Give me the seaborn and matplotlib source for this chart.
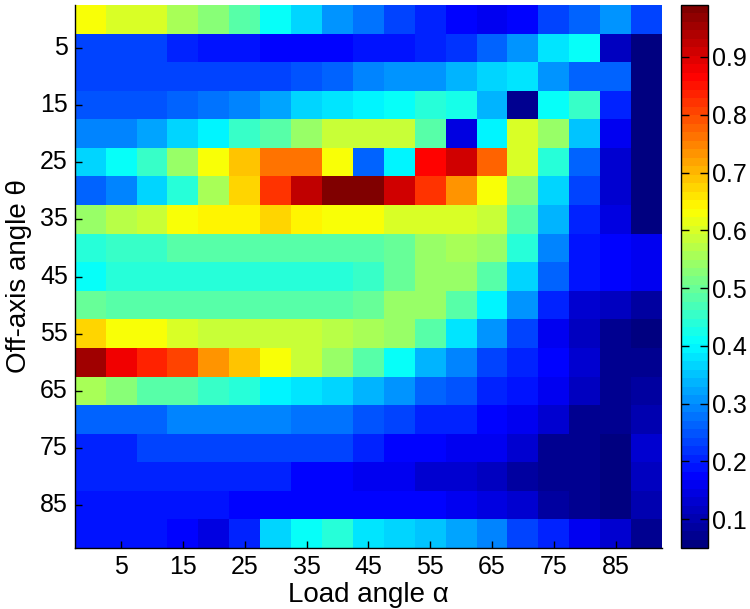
import numpy as np
import pandas as pd
import matplotlib
matplotlib.use("Agg")
import matplotlib.pyplot as plt
from matplotlib.colors import LinearSegmentedColormap
import seaborn as sns

# Load angle alpha (columns) and off-axis angle theta (rows), degrees
alpha = [0, 5, 10, 15, 20, 25, 30, 35, 40, 45, 50, 55, 60, 65, 70, 75, 80, 85, 90]
theta = [0, 5, 10, 15, 20, 25, 30, 35, 40, 45, 50, 55, 60, 65, 70, 75, 80, 85, 90]

theta_00 = [0.623, 0.60, 0.597, 0.55, 0.52, 0.476, 0.417, 0.373, 0.314, 0.28, 0.24, 0.20, 0.175, 0.167, 0.18, 0.23, 0.27, 0.31, 0.24]
theta_05 = [0.24, 0.23, 0.23, 0.21, 0.19, 0.19, 0.175, 0.175, 0.175, 0.19, 0.185, 0.20, 0.22, 0.256, 0.31, 0.385, 0.417, 0.109, 0.05]
theta_10 = [0.24, 0.24, 0.23, 0.23, 0.23, 0.23, 0.24, 0.25, 0.256, 0.285, 0.30, 0.31, 0.34, 0.36, 0.385, 0.30, 0.256, 0.256, 0.05]
theta_15 = [0.25, 0.25, 0.25, 0.26, 0.28, 0.29, 0.32, 0.36, 0.385, 0.40, 0.417, 0.44, 0.425, 0.33, 0.065, 0.417, 0.447, 0.21, 0.05]
theta_20 = [0.29, 0.29, 0.32, 0.36, 0.40, 0.447, 0.49, 0.535, 0.579, 0.593, 0.593, 0.476, 0.146, 0.40, 0.608, 0.535, 0.35, 0.16, 0.05]
theta_25 = [0.37, 0.417, 0.461, 0.535, 0.623, 0.696, 0.755, 0.755, 0.6375, 0.256, 0.40, 0.858, 0.915, 0.77, 0.60, 0.432, 0.27, 0.13, 0.05]
theta_30 = [0.26, 0.29, 0.36, 0.432, 0.55, 0.68, 0.814, 0.931, 0.99, 0.99, 0.915, 0.828, 0.726, 0.6375, 0.52, 0.36, 0.23, 0.131, 0.05]
theta_35 = [0.535, 0.572, 0.593, 0.623, 0.652, 0.652, 0.667, 0.652, 0.6375, 0.623, 0.608, 0.608, 0.60, 0.579, 0.476, 0.335, 0.21, 0.146, 0.05]
theta_40 = [0.432, 0.447, 0.461, 0.476, 0.476, 0.476, 0.476, 0.476, 0.49, 0.49, 0.505, 0.535, 0.564, 0.535, 0.432, 0.285, 0.19, 0.18, 0.165]
theta_45 = [0.417, 0.432, 0.432, 0.432, 0.432, 0.432, 0.432, 0.432, 0.44, 0.46, 0.505, 0.535, 0.535, 0.476, 0.36, 0.27, 0.19, 0.18, 0.165]
theta_50 = [0.505, 0.49, 0.49, 0.476, 0.476, 0.476, 0.476, 0.49, 0.49, 0.505, 0.535, 0.535, 0.49, 0.40, 0.30, 0.20, 0.138, 0.116, 0.094]
theta_55 = [0.667, 0.6375, 0.623, 0.608, 0.593, 0.586, 0.586, 0.586, 0.572, 0.564, 0.535, 0.476, 0.385, 0.30, 0.24, 0.165, 0.116, 0.079, 0.058]
theta_60 = [0.95, 0.887, 0.843, 0.80, 0.74, 0.696, 0.6375, 0.586, 0.535, 0.476, 0.417, 0.34, 0.285, 0.24, 0.21, 0.18, 0.125, 0.079, 0.079]
theta_65 = [0.55, 0.52, 0.49, 0.476, 0.447, 0.432, 0.40, 0.385, 0.36, 0.33, 0.30, 0.27, 0.25, 0.21, 0.19, 0.153, 0.109, 0.079, 0.094]
theta_70 = [0.256, 0.26, 0.27, 0.285, 0.285, 0.285, 0.285, 0.28, 0.28, 0.25, 0.23, 0.21, 0.20, 0.18, 0.153, 0.131, 0.079, 0.079, 0.10]
theta_75 = [0.21, 0.21, 0.23, 0.23, 0.23, 0.23, 0.23, 0.23, 0.23, 0.205, 0.18, 0.18, 0.165, 0.153, 0.125, 0.079, 0.07, 0.05, 0.125]
theta_80 = [0.20, 0.20, 0.20, 0.20, 0.20, 0.20, 0.20, 0.18, 0.18, 0.165, 0.165, 0.138, 0.125, 0.116, 0.094, 0.079, 0.065, 0.05, 0.116]
theta_85 = [0.19, 0.19, 0.19, 0.19, 0.19, 0.175, 0.175, 0.175, 0.175, 0.175, 0.175, 0.175, 0.165, 0.146, 0.125, 0.094, 0.07, 0.05, 0.10]
theta_90 = [0.19, 0.19, 0.19, 0.18, 0.146, 0.21, 0.37, 0.417, 0.432, 0.385, 0.37, 0.35, 0.32, 0.29, 0.24, 0.20, 0.153, 0.131, 0.065]

tick_labels = ["5", "15", "25", "35", "45", "55", "65", "75", "85"]
cbar_ticks = [0.1, 0.2, 0.3, 0.4, 0.5, 0.6, 0.7, 0.8, 0.9]
cbar_labels = ["0.1", "0.2", "0.3", "0.4", "0.5", "0.6", "0.7", "0.8", "0.9"]

rows = [theta_00, theta_05, theta_10, theta_15, theta_20, theta_25, theta_30,
        theta_35, theta_40, theta_45, theta_50, theta_55, theta_60, theta_65,
        theta_70, theta_75, theta_80, theta_85, theta_90]
df = pd.DataFrame(rows, index=theta, columns=alpha)

# MATLAB-style jet colormap, 64 levels
matlab_jet = LinearSegmentedColormap('matlab_jet', {
    'red':   [(0, 0, 0), (0.375, 0, 0), (0.625, 1, 1), (0.875, 1, 1), (1, 0.5, 0.5)],
    'green': [(0, 0, 0), (0.125, 0, 0), (0.375, 1, 1), (0.625, 1, 1), (0.875, 0, 0), (1, 0, 0)],
    'blue':  [(0, 0.5, 0.5), (0.125, 1, 1), (0.375, 1, 1), (0.625, 0, 0), (1, 0, 0)],
}, N=64)

plt.rcParams['font.family'] = ['Liberation Sans', 'DejaVu Sans']

fig = plt.figure(figsize=(7.5, 6.09), dpi=100)
ax = fig.add_axes([74.7 / 750, 1 - 548 / 609, (662 - 74.7) / 750, (548 - 5) / 609])
cax = fig.add_axes([681 / 750, 1 - 548 / 609, 27 / 750, (548 - 5) / 609])

vals = df.values
sns.heatmap(df, ax=ax, cbar_ax=cax, cmap=matlab_jet, vmin=vals.min(), vmax=vals.max(),
            cbar_kws={'ticks': cbar_ticks})

# ticks at the odd cells (5, 15, ..., 85)
pos = [alpha.index(int(t)) + 0.5 for t in tick_labels]
ax.set_xticks(pos)
ax.set_xticklabels(tick_labels, rotation=0)
ypos = [theta.index(int(t)) + 0.5 for t in tick_labels]
ax.set_yticks(ypos)
ax.set_yticklabels(tick_labels, rotation=0)
ax.tick_params(direction='in', length=5, width=1, labelsize=18, colors='black', pad=5)

for side in ['left', 'bottom']:
    ax.spines[side].set_visible(True)
    ax.spines[side].set_color('black')
    ax.spines[side].set_linewidth(1)

ax.set_xlabel('Load angle α', fontsize=20, labelpad=2)
ax.set_ylabel('Off-axis angle θ', fontsize=20, labelpad=6)

cb = ax.collections[0].colorbar
cb.outline.set_edgecolor('black')
cb.outline.set_linewidth(1)
cax.tick_params(direction='in', length=6, width=1, labelsize=18, left=True, right=True,
                labelright=True, pad=3)
cax.set_yticklabels(cbar_labels)

fig.savefig('out.png', dpi=100)
